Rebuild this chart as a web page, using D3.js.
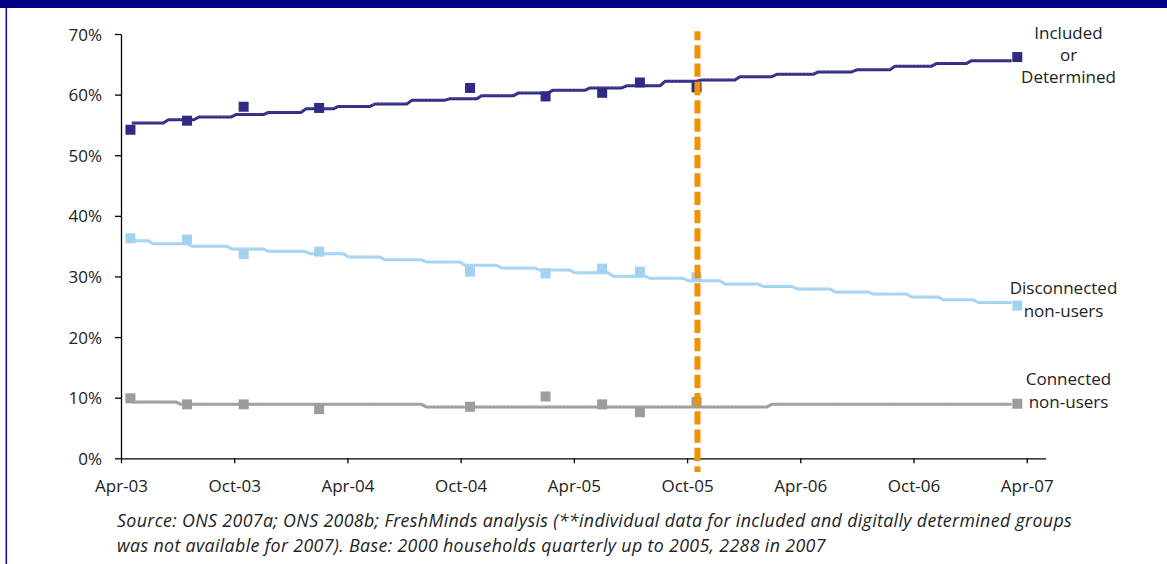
<!DOCTYPE html>
<html>
<head>
<meta charset="utf-8">
<script src="https://cdn.jsdelivr.net/npm/d3@7"></script>
<style>
  body { margin: 0; background: #fff; }
  svg text { font-family: "Open Sans", "Noto Sans", sans-serif; }
</style>
</head>
<body>
<svg id="chart" width="1167" height="564"></svg>
<script>
// ---------------- DATA ----------------
const tickLabels = ["Apr-03", "Oct-03", "Apr-04", "Oct-04", "Apr-05", "Oct-05", "Apr-06", "Oct-06", "Apr-07"];
const yTickValues = [0, 10, 20, 30, 40, 50, 60, 70];

// survey months (quarterly data points)
const surveyMonths = ["Apr-03", "Jul-03", "Oct-03", "Feb-04", "Oct-04", "Feb-05", "May-05", "Jul-05", "Oct-05", "Mar-07"];
const includedValues     = [54.2, 55.7, 58.0, 57.8, 61.1, 59.7, 60.3, 62.0, 61.2, 66.2];
const disconnectedValues = [36.3, 36.1, 33.7, 34.1, 30.8, 30.5, 31.3, 30.8, 29.9, 25.2];
const connectedValues    = [9.9, 8.9, 8.9, 8.1, 8.5, 10.2, 8.9, 7.6, 9.3, 9.0];

// trend lines: month (since Apr-03) where each step begins, and the step value (%)
const includedTrendMonths = [0.57, 2.51, 4.13, 6.09, 7.81, 9.80, 11.52, 13.46, 15.41, 17.40, 19.11, 21.05,
                             22.88, 24.85, 26.80, 28.83, 30.77, 32.80, 34.75, 36.95, 38.99, 41.02, 43.23, 45.08];
const includedTrendValues = [55.3, 55.85, 56.3, 56.7, 57.05, 57.65, 58.05, 58.45, 59.05, 59.3, 59.8, 60.25,
                             60.7, 61.1, 61.45, 62.2, 62.4, 62.95, 63.35, 63.75, 64.1, 64.7, 65.15, 65.6];
const disconnectedTrendMonths = [0.57, 1.71, 3.75, 5.87, 7.81, 10.02, 12.05, 13.99, 16.20, 18.23, 20.17, 22.20,
                                 24.06, 26.09, 28.04, 30.06, 32.01, 34.04, 35.82, 37.84, 39.87, 41.90, 43.58, 45.43];
const disconnectedTrendValues = [35.9, 35.4, 35.0, 34.55, 34.15, 33.75, 33.2, 32.75, 32.4, 31.85, 31.4, 31.05,
                                 30.6, 30.05, 29.7, 29.3, 28.75, 28.35, 27.95, 27.45, 27.1, 26.6, 26.15, 25.7];
const connectedTrendMonths = [0.57, 3.18, 16.2, 34.48];
const connectedTrendValues = [9.3, 8.9, 8.45, 8.9];
const trendEndMonth = 47.2;

const cutoffMonth = "Oct-05";

const seriesNames = [["Included", "or", "Determined"], ["Disconnected", "non-users"], ["Connected", "non-users"]];
const footnoteLines = [
  "Source: ONS 2007a; ONS 2008b; FreshMinds analysis (**individual data for included and digitally determined groups",
  "was not available for 2007). Base: 2000 households quarterly up to 2005, 2288 in 2007"
];

// ---------------- HELPERS ----------------
const monthNames = ["Jan","Feb","Mar","Apr","May","Jun","Jul","Aug","Sep","Oct","Nov","Dec"];
function monthIndex(label) {
  const [m, y] = label.split("-");
  return (2000 + +y - 2003) * 12 + monthNames.indexOf(m) - 3;
}

const svg = d3.select("#chart");
const W = 1167, H = 564;
const FONT = "17px";

// frame
svg.append("rect").attr("x", 0).attr("y", 0).attr("width", W).attr("height", 8).attr("fill", "#000080");
svg.append("rect").attr("x", 5.5).attr("y", 8).attr("width", 1.6).attr("height", H - 8).attr("fill", "#1010B0");

// scales
const x = d3.scaleLinear().domain([0, 49]).range([121, 1045.6]);
const y = d3.scaleLinear().domain([0, 70]).range([458.3, 34]);

// axes
const yAxis = d3.axisLeft(y).tickValues(yTickValues).tickSize(6).tickSizeOuter(0).tickPadding(13)
  .tickFormat(d => d + "%");
const gy = svg.append("g").attr("transform", `translate(${x(0)},0)`).call(yAxis);

const xAxis = d3.axisBottom(x).tickValues(tickLabels.map(monthIndex)).tickSize(5).tickSizeOuter(0)
  .tickFormat((d, i) => tickLabels[i]);
const gx = svg.append("g").attr("transform", `translate(0,${y(0)})`).call(xAxis);

[gx, gy].forEach(g => {
  g.select(".domain").attr("stroke", "#000").attr("stroke-width", 1.3);
  g.selectAll(".tick line").attr("stroke", "#000").attr("stroke-width", 1.3);
  g.selectAll(".tick text").attr("fill", "#222").style("font-size", FONT).style("font-family", '"Open Sans", sans-serif');
});
gx.selectAll(".tick text").attr("y", 34).attr("dy", 0);
gy.selectAll(".tick text").attr("dy", "0.36em");

// trend lines
const slant = 0.27;
function stepPoints(months, values) {
  const pts = [];
  months.forEach((m, i) => {
    const next = i < months.length - 1 ? months[i + 1] - slant : trendEndMonth;
    pts.push([m, values[i]]);
    pts.push([next, values[i]]);
  });
  return pts;
}
const line = d3.line().x(d => x(d[0])).y(d => y(d[1]));

const series = [
  { months: includedTrendMonths, trend: includedTrendValues, values: includedValues, color: "#2F2A84", light: "#7A76B8" },
  { months: disconnectedTrendMonths, trend: disconnectedTrendValues, values: disconnectedValues, color: "#A2D2F1", light: "#D4ECFA" },
  { months: connectedTrendMonths, trend: connectedTrendValues, values: connectedValues, color: "#9C9C9C", light: "#C8C8C8" }
];

series.forEach(s => {
  const pts = stepPoints(s.months, s.trend);
  svg.append("path").attr("d", line(pts)).attr("fill", "none")
    .attr("stroke", s.color).attr("stroke-width", 3).attr("stroke-linejoin", "round");
  svg.append("path").attr("d", line(pts)).attr("fill", "none")
    .attr("stroke", s.light).attr("stroke-width", 0.8).attr("stroke-dasharray", "2 1.5")
    .attr("transform", "translate(0,-0.5)").attr("opacity", 0.6);
});

// markers
const size = 10;
series.forEach(s => {
  svg.append("g").selectAll("rect").data(s.values).join("rect")
    .attr("x", (d, i) => x(monthIndex(surveyMonths[i]) + 0.5) - size / 2)
    .attr("y", d => y(d) - size / 2)
    .attr("width", size).attr("height", size)
    .attr("fill", s.color);
});

// cutoff dashed line
const cx = x(monthIndex(cutoffMonth) + 0.55);
svg.append("line").attr("x1", cx).attr("x2", cx).attr("y1", y(70.45)).attr("y2", y(-2.25))
  .attr("stroke", "#F39200").attr("stroke-width", 6)
  .attr("stroke-dasharray", "13.3 5").attr("stroke-dashoffset", 4.3);

// series labels
const labelSpecs = [
  { lines: seriesNames[0], cx: 1068.5, baselines: [39, 61.3, 83.3] },
  { lines: seriesNames[1], cx: 1063.5, baselines: [293.5, 316.5] },
  { lines: seriesNames[2], cx: 1068.5, baselines: [385, 408] }
];
labelSpecs.forEach(spec => {
  spec.lines.forEach((t, i) => {
    svg.append("text").attr("x", spec.cx).attr("y", spec.baselines[i])
      .attr("text-anchor", "middle").attr("fill", "#222").style("font-size", FONT).text(t);
  });
});

// footnote
const fnBase = [527, 551.5];
footnoteLines.forEach((t, i) =>
  svg.append("text").attr("x", 117).attr("y", fnBase[i]).attr("fill", "#222")
    .style("font-style", "italic").style("font-size", "17.8px").style("letter-spacing", "0.35px").text(t));
</script>
</body>
</html>
